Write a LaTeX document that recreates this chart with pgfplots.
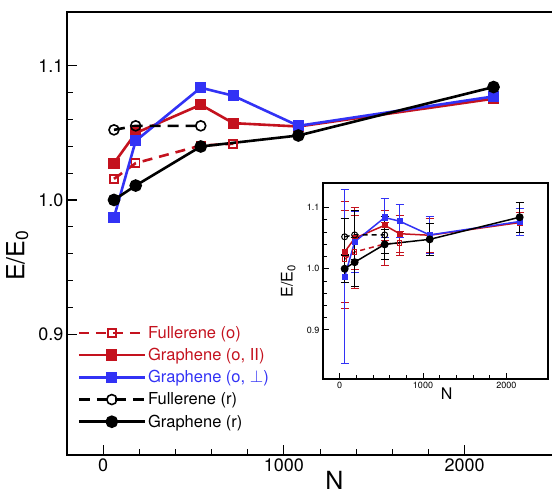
\documentclass[border=0pt]{standalone}
\usepackage{fontspec}
\setmainfont{TeX Gyre Heros}
\usepackage{pgfplots}
\pgfplotsset{compat=1.18}
\usetikzlibrary{calc}
\definecolor{myred}{RGB}{196,18,30}
\definecolor{myblue}{RGB}{50,50,245}

% main data: N, E/E0
\pgfplotstableread{
N     y
60    1.0157
180   1.0274
540   1.0405
720   1.0418
}\fulo
\pgfplotstableread{
N     y
60    1.0274
180   1.0498
540   1.0709
720   1.0572
1080  1.0547
2160  1.0754
}\grapar
\pgfplotstableread{
N     y
60    0.987
180   1.044
540   1.0836
720   1.0776
1080  1.0552
2160  1.0771
}\graperp
\pgfplotstableread{
N     y
60    1.0522
180   1.0552
540   1.0552
}\fulr
\pgfplotstableread{
N     y
60    1.000
180   1.0107
540   1.0398
1080  1.048
2160  1.0841
}\grar

% inset data with errors
\pgfplotstableread{
N     y       e
60    1.0157  0.080
180   1.0274  0.060
540   1.0405  0.035
720   1.0418  0.020
}\fuloe
\pgfplotstableread{
N     y       e
60    1.0274  0.082
180   1.0498  0.050
540   1.0709  0.025
720   1.0572  0.030
1080  1.0547  0.028
2160  1.0754  0.016
}\grapare
\pgfplotstableread{
N     y       e
60    0.987   0.142
180   1.044   0.050
540   1.0836  0.032
720   1.0776  0.027
1080  1.0552  0.030
2160  1.0771  0.022
}\graperpe
\pgfplotstableread{
N     y       e
60    1.0522  0.030
180   1.0552  0.040
540   1.0552  0.030
}\fulre
\pgfplotstableread{
N     y       e
60    1.000   0.023
180   1.0107  0.040
540   1.0398  0.024
1080  1.048   0.026
2160  1.0841  0.025
}\grare

\begin{document}
\begin{tikzpicture}
\begin{axis}[
    name=main,
    scale only axis,
    width=488pt, height=443pt,
    xmin=-200, xmax=2500,
    ymin=0.81, ymax=1.14,
    xtick={0,1000,2000},
    ytick={0.9,1.0,1.1},
    minor x tick num=4,
    minor y tick num=4,
    xtick pos=lower, ytick pos=left,
    tick align=inside,
    major tick length=10pt, minor tick length=6pt,
    axis line style={line width=1.4pt},
    tick style={line width=1.2pt, black},
    minor tick style={line width=0.7pt},
    ticklabel style={font=\fontsize{18}{18}\selectfont},
    /pgf/number format/assume math mode=true,
    xticklabel style={/pgf/number format/1000 sep={}},
    yticklabel style={/pgf/number format/.cd, fixed, fixed zerofill, precision=1},
    xlabel={N},
    ylabel={E/E\textsubscript{0}},
    label style={font=\fontsize{25}{25}\selectfont},
    xlabel style={at={(axis description cs:0.548,0)}, anchor=north, yshift=-15pt, inner sep=1pt},
    ylabel style={at={(axis description cs:0,0.45)}, anchor=south, yshift=35pt},
    legend style={draw=none, fill=none, at={(axis description cs:0.015,0.05)},
        anchor=south west, font=\fontsize{16.5}{19}\selectfont,
        row sep=4.5pt, cells={anchor=west}},
    legend image code/.code={
        \draw[mark repeat=2, mark phase=2] plot coordinates {(0pt,0pt) (33pt,0pt) (66pt,0pt)};},
    every axis plot/.append style={line width=2.6pt},
]
\addplot[color=myred, dash pattern=on 10pt off 7pt, mark=square,
    mark size=4pt, mark options={solid, line width=1.6pt}] table[x=N, y=y] {\fulo};
\addlegendentry{\textcolor{myred}{Fullerene (o)}}
\addplot[color=myred, mark=square*, mark size=4.3pt, mark options={solid}] table[x=N, y=y] {\grapar};
\addlegendentry{\textcolor{myred}{Graphene (o, II)}}
\addplot[color=myblue, mark=square*, mark size=4.3pt, mark options={solid}] table[x=N, y=y] {\graperp};
\addlegendentry{\textcolor{myblue}{Graphene (o, $\perp$)}}
\addplot[color=black, dash pattern=on 11pt off 7pt, mark=o,
    mark size=5pt, mark options={solid, line width=1.6pt}] table[x=N, y=y] {\fulr};
\addlegendentry{Fullerene (r)}
\addplot[color=black, mark=*, mark size=5pt, mark options={solid}] table[x=N, y=y] {\grar};
\addlegendentry{Graphene (r)}
\end{axis}

\begin{axis}[
    at={($(main.south west)+(256pt,76pt)$)}, anchor=south west,
    scale only axis,
    width=225pt, height=196pt,
    axis background/.style={fill=white},
    xmin=-200, xmax=2500,
    ymin=0.82, ymax=1.14,
    xtick={0,1000,2000},
    ytick={0.9,1.0,1.1},
    minor x tick num=4,
    minor y tick num=4,
    xtick pos=lower, ytick pos=left,
    tick align=inside,
    major tick length=6pt, minor tick length=4pt,
    axis line style={line width=1.2pt},
    tick style={line width=1pt, black},
    minor tick style={line width=0.6pt},
    ticklabel style={font=\fontsize{9}{9}\selectfont},
    /pgf/number format/assume math mode=true,
    xticklabel style={/pgf/number format/1000 sep={}},
    yticklabel style={/pgf/number format/.cd, fixed, fixed zerofill, precision=1},
    xlabel={N},
    ylabel={E/E\textsubscript{0}},
    label style={font=\fontsize{16}{16}\selectfont},
    xlabel style={at={(axis description cs:0.55,0)}, anchor=north, yshift=-5pt},
    ylabel style={at={(axis description cs:0,0.5)}, anchor=south, yshift=24pt},
    every axis plot/.append style={line width=1.5pt},
    error bars/y dir=both, error bars/y explicit,
    error bars/error bar style={line width=0.7pt, solid},
    error bars/error mark options={rotate=90, mark size=4pt, line width=0.7pt},
]
\addplot[color=myred, dash pattern=on 5pt off 4pt, mark=square,
    mark size=2.2pt, mark options={solid, line width=1pt}] table[x=N, y=y, y error=e] {\fuloe};
\addplot[color=myred, mark=square*, mark size=2.3pt, mark options={solid}] table[x=N, y=y, y error=e] {\grapare};
\addplot[color=myblue, mark=square*, mark size=2.3pt, mark options={solid}] table[x=N, y=y, y error=e] {\graperpe};
\addplot[color=black, dash pattern=on 5pt off 4pt, mark=o,
    mark size=3pt, mark options={solid, line width=1pt}] table[x=N, y=y, y error=e] {\fulre};
\addplot[color=black, mark=*, mark size=3.2pt, mark options={solid}] table[x=N, y=y, y error=e] {\grare};
\end{axis}

\pgfresetboundingbox
\path ($(main.south west)+(-67pt,-40pt)$) rectangle ++(552pt,495pt);
\end{tikzpicture}
\end{document}
